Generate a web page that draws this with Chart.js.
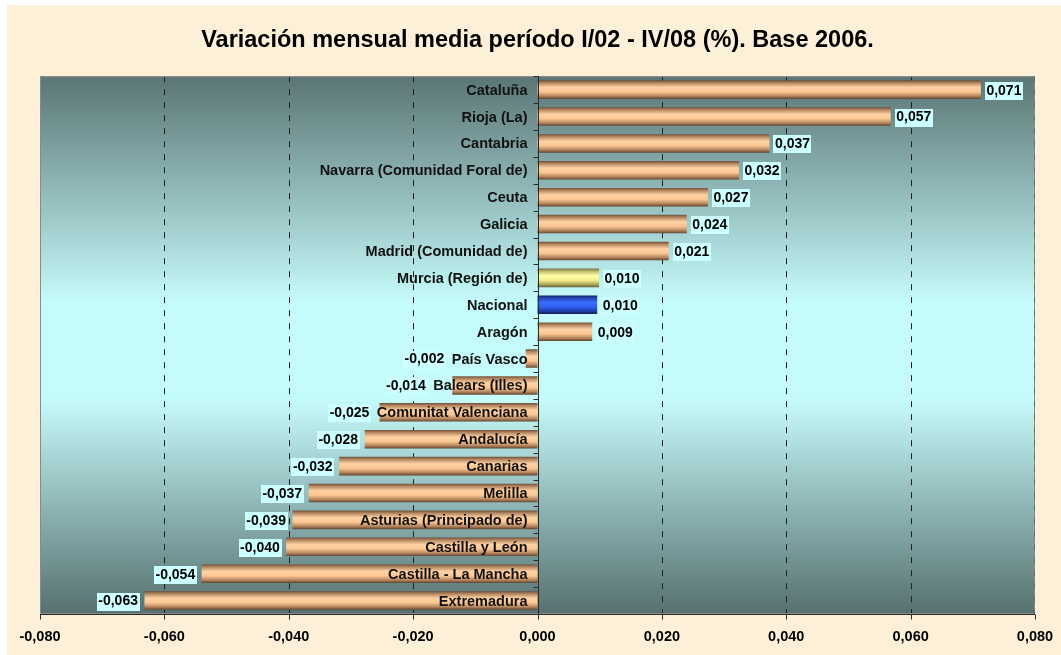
<!DOCTYPE html>
<html>
<head>
<meta charset="utf-8">
<script src="https://cdn.jsdelivr.net/npm/chart.js@4.4.1/dist/chart.umd.min.js"></script>
<style>
  html, body { margin: 0; padding: 0; background: #fff; }
  #wrap { position: absolute; left: 7px; top: 5px; width: 1054px; height: 650px; background: #fdf0d8; }
</style>
</head>
<body>
<div id="wrap"><canvas id="chart" width="1054" height="650"></canvas></div>
<script>
const regions = [
  'Cataluña', 'Rioja (La)', 'Cantabria', 'Navarra (Comunidad Foral de)', 'Ceuta',
  'Galicia', 'Madrid (Comunidad de)', 'Murcia (Región de)', 'Nacional', 'Aragón',
  'País Vasco', 'Balears (Illes)', 'Comunitat Valenciana', 'Andalucía', 'Canarias',
  'Melilla', 'Asturias (Principado de)', 'Castilla y León', 'Castilla - La Mancha', 'Extremadura'
];
const values = [
  0.0713, 0.0568, 0.0373, 0.0324, 0.0274,
  0.0240, 0.0211, 0.0099, 0.0096, 0.0088,
  -0.0019, -0.0137, -0.0254, -0.0278, -0.0319,
  -0.0368, -0.0394, -0.0404, -0.0540, -0.0632
];
const xMin = -0.08, xMax = 0.08, xStep = 0.02;
const gridValues = [-0.06, -0.04, -0.02, 0.02, 0.04, 0.06];

const palettes = {
  copper: [[0, '#6f503a'], [0.15, '#b98b64'], [0.38, '#ffd2a4'], [0.62, '#fbc692'], [0.85, '#b3835c'], [1, '#5f4430']],
  yellow: [[0, '#767440'], [0.15, '#c0bc72'], [0.38, '#ffffa6'], [0.62, '#f6f08e'], [0.85, '#aea85e'], [1, '#646032']],
  blue:   [[0, '#14235f'], [0.15, '#2848be'], [0.38, '#3b6dff'], [0.62, '#2f60f0'], [0.85, '#1f3ca2'], [1, '#101c50']]
};
function paletteFor(i) {
  if (regions[i] === 'Murcia (Región de)') return palettes.yellow;
  if (regions[i] === 'Nacional') return palettes.blue;
  return palettes.copper;
}
const barPct = 0.69;
const fmt = v => v.toFixed(3).replace('.', ',');
const catFont = 'bold 14.5px "Liberation Sans", Arial, sans-serif';
const valFont = 'bold 14px "Liberation Sans", Arial, sans-serif';

function barFill(ctx) {
  const chart = ctx.chart;
  const pal = paletteFor(ctx.dataIndex);
  const y = chart.scales && chart.scales.y;
  if (!chart.chartArea || !y) return pal[2][1];
  const cy = y.getPixelForValue(ctx.dataIndex);
  const half = (y.height / regions.length) * barPct / 2;
  const g = chart.ctx.createLinearGradient(0, cy - half, 0, cy + half);
  pal.forEach(([o, c]) => g.addColorStop(o, c));
  return g;
}

const framePlugin = {
  id: 'frame',
  beforeDraw(chart) {
    const { ctx, chartArea: a } = chart;
    const g = ctx.createLinearGradient(0, a.top, 0, a.bottom);
    g.addColorStop(0, '#5b7575');
    g.addColorStop(0.42, '#c6fbfb');
    g.addColorStop(0.6, '#c6fbfb');
    g.addColorStop(1, '#577070');
    ctx.save();
    ctx.fillStyle = g;
    ctx.fillRect(a.left, a.top, a.right - a.left, a.bottom - a.top);
    ctx.restore();
  },
  beforeDatasetsDraw(chart) {
    const { ctx, chartArea: a, scales: { x } } = chart;
    ctx.save();
    ctx.strokeStyle = '#1e1e1e';
    ctx.lineWidth = 1;
    ctx.setLineDash([6, 7]);
    gridValues.forEach(v => {
      const px = Math.round(x.getPixelForValue(v)) + 0.5;
      ctx.beginPath();
      ctx.moveTo(px, a.top);
      ctx.lineTo(px, a.bottom);
      ctx.stroke();
    });
    ctx.setLineDash([]);
    ctx.strokeStyle = '#8a8a8a';
    ctx.strokeRect(a.left + 0.5, a.top + 0.5, a.right - a.left - 1, a.bottom - a.top - 1);
    ctx.strokeStyle = '#6a6a6a';
    ctx.setLineDash([6, 7]);
    ctx.beginPath();
    ctx.moveTo(a.right - 0.5, a.top);
    ctx.lineTo(a.right - 0.5, a.bottom);
    ctx.stroke();
    ctx.restore();
  },
  afterDatasetsDraw(chart) {
    const { ctx, chartArea: a, scales: { x, y } } = chart;
    const x0 = Math.round(x.getPixelForValue(0)) + 0.5;
    const rowH = y.height / regions.length;
    ctx.save();
    // eje vertical en cero con marcas
    ctx.strokeStyle = '#2a2a2a';
    ctx.lineWidth = 1;
    ctx.beginPath();
    ctx.moveTo(x0, a.top);
    ctx.lineTo(x0, a.bottom);
    for (let i = 0; i <= regions.length; i++) {
      const py = Math.round(a.top + i * rowH) + 0.5;
      ctx.moveTo(x0 - 5, py);
      ctx.lineTo(x0, py);
    }
    // eje horizontal inferior con marcas
    const yb = Math.round(a.bottom) + 0.5;
    ctx.moveTo(a.left, yb);
    ctx.lineTo(a.right, yb);
    for (let v = xMin; v <= xMax + 1e-9; v += xStep) {
      const px = Math.round(x.getPixelForValue(v)) + 0.5;
      ctx.moveTo(px, yb);
      ctx.lineTo(px, yb + 5);
    }
    ctx.stroke();

    // etiquetas de categorías y valores
    ctx.textBaseline = 'middle';
    regions.forEach((name, i) => {
      const cy = y.getPixelForValue(i) + 1;
      ctx.font = catFont;
      ctx.fillStyle = '#111';
      ctx.textAlign = 'right';
      const catRight = x0 - 11;
      ctx.fillText(name, catRight, cy);
      const catLeft = catRight - ctx.measureText(name).width;

      const v = values[i];
      const label = fmt(v);
      ctx.font = valFont;
      const w = ctx.measureText(label).width + 3;
      const end = x.getPixelForValue(v);
      let left;
      if (v >= 0) left = end + 4;
      else left = Math.min(end - 5, catLeft - 6) - w;
      ctx.fillStyle = '#ccffff';
      ctx.fillRect(Math.round(left), Math.round(cy - 9), Math.round(w), 18);
      ctx.fillStyle = '#000';
      ctx.textAlign = 'left';
      ctx.fillText(label, left + 1.5, cy);
    });
    ctx.restore();
  }
};

new Chart(document.getElementById('chart'), {
  type: 'bar',
  data: {
    labels: regions,
    datasets: [{
      data: values,
      backgroundColor: barFill,
      borderWidth: 0,
      barPercentage: barPct,
      categoryPercentage: 1
    }]
  },
  options: {
    indexAxis: 'y',
    responsive: false,
    animation: false,
    layout: { padding: { left: 33, right: 26, top: 0, bottom: 0 } },
    plugins: {
      legend: { display: false },
      tooltip: { enabled: false },
      title: {
        display: true,
        text: 'Variación mensual media período I/02 - IV/08 (%). Base 2006.',
        color: '#000',
        font: { family: '"Liberation Sans", Arial, sans-serif', size: 23.5, weight: 'bold', lineHeight: 1.2 },
        padding: { top: 21, bottom: 22 }
      }
    },
    scales: {
      x: {
        min: xMin,
        max: xMax,
        grid: { display: false, drawTicks: false },
        border: { display: false },
        afterFit(scale) {
          scale.height = 41;
          scale.paddingLeft = 0;
          scale.paddingRight = 0;
        },
        ticks: {
          stepSize: xStep,
          padding: 14,
          color: '#000',
          maxRotation: 0,
          font: { family: '"Liberation Sans", Arial, sans-serif', size: 14.5, weight: 'bold' },
          callback: v => fmt(Math.abs(v) < 1e-9 ? 0 : v)
        }
      },
      y: {
        display: false,
        offset: true
      }
    }
  },
  plugins: [framePlugin]
});
</script>
</body>
</html>
